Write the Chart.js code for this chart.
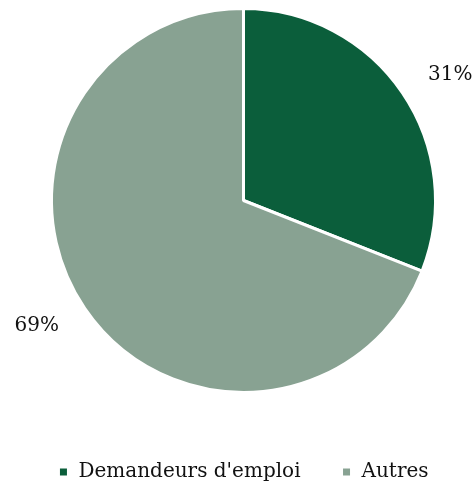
<!DOCTYPE html>
<html>
<head>
<meta charset="utf-8">
<script src="https://cdn.jsdelivr.net/npm/chart.js@4"></script>
<style>
html,body{margin:0;padding:0;background:#fff;}
#wrap{width:474px;height:486px;}
</style>
</head>
<body>
<div id="wrap"><canvas id="myChart" width="474" height="486"></canvas></div>
<script>
var categories=['Demandeurs d\'emploi','Autres'];
var shares=[31,69];
var sliceColors=['#0b5e3b','#88a292'];

// labels outside the slices, like the original
var outsideLabels={
    id:'outsideLabels',
    afterDatasetsDraw:function(chart){
        var ctx=chart.ctx;
        var meta=chart.getDatasetMeta(0);
        ctx.save();
        ctx.font='20px "DejaVu Serif"';
        ctx.fillStyle='#111';
        ctx.textBaseline='middle';
        for(var i=0;i<meta.data.length;i++){
            var arc=meta.data[i];
            var mid=(arc.startAngle+arc.endAngle)/2;
            var r=arc.outerRadius+31;
            var x=arc.x+Math.cos(mid)*r;
            var y=arc.y+Math.sin(mid)*r;
            ctx.textAlign=Math.cos(mid)>=0?'left':'right';
            ctx.fillText(shares[i]+'%',x,y);
        }
        ctx.restore();
    }
};

var chartContainer=document.getElementById('myChart');
var myChart=new Chart(chartContainer,{
    type:'pie',
    data:{
        labels:categories,
        datasets:[{
            data:shares,
            backgroundColor:sliceColors,
            borderColor:'#ffffff',
            borderWidth:3,
            radius:192
        }]
    },
    options:{
        responsive:false,
        animation:false,
        layout:{padding:{top:0,left:13,right:0,bottom:-6}},
        plugins:{
            tooltip:{enabled:false},
            legend:{
                position:'bottom',
                // empty title only to push the legend row down
                title:{display:true,text:' ',font:{size:10},padding:4},
                labels:{
                    boxWidth:10,
                    boxHeight:10,
                    padding:41,
                    color:'#111',
                    font:{family:'"DejaVu Serif"',size:20}
                }
            }
        }
    },
    plugins:[outsideLabels]
});
</script>
</body>
</html>
